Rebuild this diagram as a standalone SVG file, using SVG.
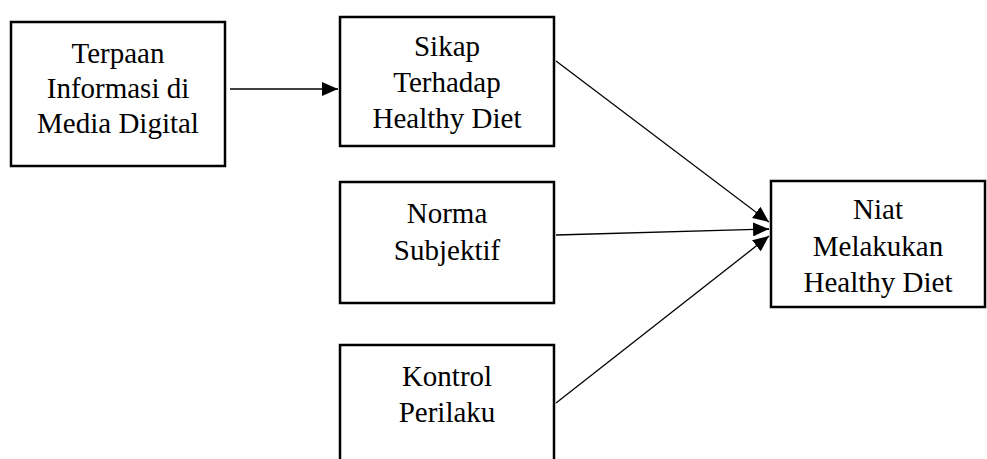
<svg xmlns="http://www.w3.org/2000/svg" width="987" height="459" viewBox="0 0 987 459">
<defs>
<style>
.box{fill:#fff;stroke:#000;stroke-width:2.5}
.t{font-family:"Liberation Serif","Times New Roman",serif;font-size:29px;fill:#000;text-anchor:middle}
.c{stroke:#000;stroke-width:1.3;fill:none}
</style>
<marker id="ah" viewBox="0 0 16 14" refX="16" refY="7" markerWidth="16" markerHeight="14" markerUnits="userSpaceOnUse" orient="auto">
<path d="M0,0 L16,7 L0,14 Z" fill="#000"/>
</marker>
</defs>
<rect width="987" height="459" fill="#fff"/>
<g id="n1">
<rect class="box" x="11" y="22" width="214" height="144"/>
<text class="t" x="118" y="63">Terpaan</text>
<text class="t" x="118" y="98">Informasi di</text>
<text class="t" x="118" y="133">Media Digital</text>
</g>
<g id="n2">
<rect class="box" x="340" y="17" width="214" height="129"/>
<text class="t" x="447" y="56">Sikap</text>
<text class="t" x="447" y="92">Terhadap</text>
<text class="t" x="447" y="128">Healthy Diet</text>
</g>
<g id="n3">
<rect class="box" x="340" y="182" width="214" height="121"/>
<text class="t" x="447" y="223">Norma</text>
<text class="t" x="447" y="260">Subjektif</text>
</g>
<g id="n4">
<rect class="box" x="340" y="345" width="214" height="130"/>
<text class="t" x="447" y="386">Kontrol</text>
<text class="t" x="447" y="422">Perilaku</text>
</g>
<g id="n5">
<rect class="box" x="771" y="181" width="214" height="126"/>
<text class="t" x="878" y="219">Niat</text>
<text class="t" x="878" y="256">Melakukan</text>
<text class="t" x="878" y="292">Healthy Diet</text>
</g>
<g id="connectors">
<line class="c" x1="230" y1="89" x2="338" y2="89" marker-end="url(#ah)"/>
<line class="c" x1="556" y1="61" x2="769" y2="222" marker-end="url(#ah)"/>
<line class="c" x1="556" y1="235" x2="769" y2="229" marker-end="url(#ah)"/>
<line class="c" x1="556" y1="403" x2="769" y2="236" marker-end="url(#ah)"/>
</g>
</svg>
